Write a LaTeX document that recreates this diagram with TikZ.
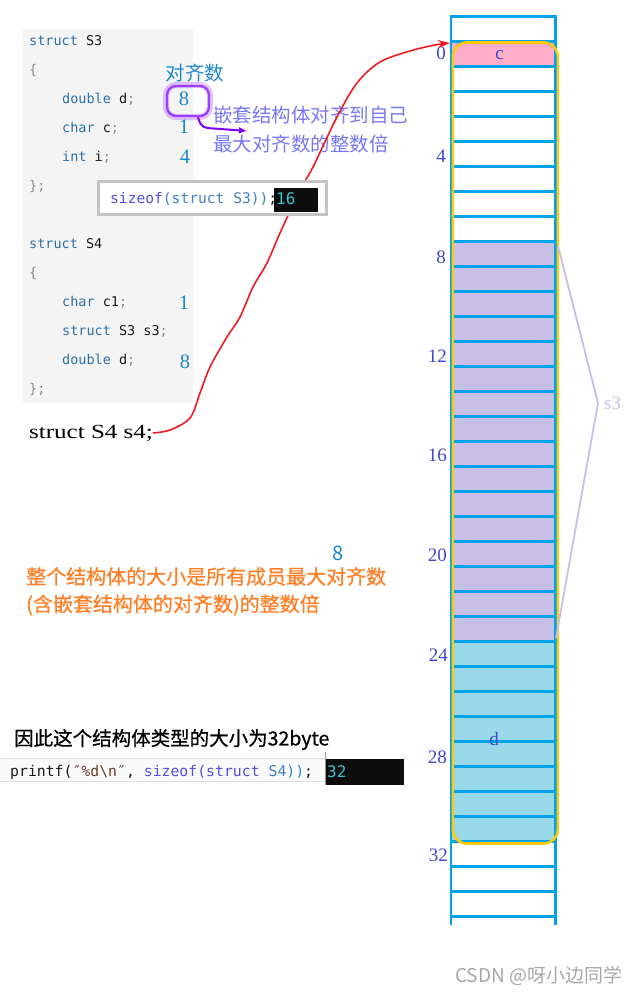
\documentclass[tikz,border=0pt]{standalone}
\usepackage{fontspec}
\setmainfont{Liberation Serif}
\newfontfamily\cjk{Noto Sans CJK SC}
\newfontfamily\cjkb{Noto Sans CJK SC}[FakeBold=0.7]
\newfontfamily\monof{DejaVu Sans Mono}
\usetikzlibrary{arrows.meta}
\newcommand\fsz[1]{\fontsize{#1}{#1}\selectfont}
\definecolor{gridblue}{HTML}{00A2E8}
\definecolor{cpink}{HTML}{FFAEC9}
\definecolor{clav}{HTML}{C8BFE7}
\definecolor{clblue}{HTML}{99D9EA}
\definecolor{cyell}{HTML}{FFC90E}
\definecolor{cindigo}{HTML}{3F48CC}
\definecolor{cred}{HTML}{ED1C24}
\definecolor{corange}{HTML}{FF7F27}
\definecolor{cnum}{HTML}{1E88C8}
\definecolor{cpurp}{HTML}{8000FF}
\definecolor{cglow}{HTML}{A040FF}
\definecolor{cptext}{HTML}{7878F4}
\definecolor{ckw}{HTML}{2F70A6}
\definecolor{codebg}{HTML}{F4F4F4}
\definecolor{cbrace}{HTML}{8A8A8A}
\definecolor{cident}{HTML}{1A1A1A}
\definecolor{cfunc}{HTML}{5050E0}
\definecolor{ctype}{HTML}{4080C0}
\definecolor{ccyan}{HTML}{3CC0D0}
\definecolor{cframe}{HTML}{C3C3C3}
\definecolor{cstr}{HTML}{6A3A2A}
\definecolor{cwm}{HTML}{A8A8A8}
\tikzset{
  code/.style={anchor=base west, inner sep=0, font=\monof\fsz{13.5}, text=cident},
  knum/.style={anchor=center, inner sep=0, text=cnum, font=\fsz{20.5}},
  memlbl/.style={anchor=east, inner sep=0, text=cindigo, font=\fsz{19}},
  gridline/.style={gridblue, line width=2.6},
  cjktext/.style={anchor=west, inner sep=0, font=\cjk\fsz{#1}},
  cjkbold/.style={anchor=west, inner sep=0, font=\cjkb\fsz{#1}},
  blackbox/.style={fill=black!95, draw=none, inner sep=0, anchor=north west},
}
\begin{document}
\begin{tikzpicture}[x=1pt,y=-1pt]
\useasboundingbox (0,0) rectangle (634,993);
\fill[white] (0,0) rectangle (634,993);

% ---------- code block ----------
\fill[codebg] (23,29) rectangle (193,403);
\node[code] (a1) at (29,45.5) {\textcolor{ckw}{struct} S3};
\node[code] (a2) at (29,74.5) {\textcolor{cbrace}{\{}};
\node[code] (a3) at (62,103.5) {\textcolor{ckw}{double} d\textcolor{cbrace}{;}};
\node[code] (a4) at (62,132.5) {\textcolor{ckw}{char} c\textcolor{cbrace}{;}};
\node[code] (a5) at (62,161.5) {\textcolor{ckw}{int} i\textcolor{cbrace}{;}};
\node[code] (a6) at (29,190.5) {\textcolor{cbrace}{\};}};
\node[code] (b1) at (29,248.5) {\textcolor{ckw}{struct} S4};
\node[code] (b2) at (29,277.5) {\textcolor{cbrace}{\{}};
\node[code] (b3) at (62,306.5) {\textcolor{ckw}{char} c1\textcolor{cbrace}{;}};
\node[code] (b4) at (62,335.5) {\textcolor{ckw}{struct} S3 s3\textcolor{cbrace}{;}};
\node[code] (b5) at (62,364.5) {\textcolor{ckw}{double} d\textcolor{cbrace}{;}};
\node[code] (b6) at (29,393.5) {\textcolor{cbrace}{\};}};

% alignment numbers
\node[anchor=center, inner sep=0, text=cnum, font=\cjk\fsz{19.5}] (hdr) at (195,73.5) {对齐数};
\draw[cglow, line width=6, opacity=0.3, rounded corners=10] (166,85) rectangle (210,117);
\node[draw=cglow, line width=2.4, rounded corners=9, minimum width=42, minimum height=30, inner sep=0] (g8) at (188,101) {};
\node[knum] (n8a) at (184,98.5) {8};
\node[knum] (n1a) at (184,127) {1};
\node[knum] (n4a) at (185,157) {4};
\node[knum] (n1b) at (184,303) {1};
\node[knum] (n8b) at (185,362) {8};

% purple note
\coordinate (pa1) at ([xshift=10pt]g8.south);
\coordinate (pa2) at (247,131);
\draw[cpurp, line width=2, -{Latex[length=8pt,width=7pt]}] (pa1) .. controls (201,128) and (204,128) .. (214,128.5) -- (pa2);
\node[cjktext=19.5, text=cptext] (note1) at (213,115) {嵌套结构体对齐到自己};
\node[cjktext=19.5, text=cptext] (note2) at (213,144) {最大对齐数的整数倍};

% struct S4 s4;
\node[anchor=base west, inner sep=0, font=\fsz{20}] (s4) at (29,438) {\scalebox{1.25}[1]{struct S4 s4;}};

% ---------- memory column ----------
\fill[cpink] (451,41.5) rectangle (555.5,66.5);
\fill[clav] (451,241.5) rectangle (555.5,641.5);
\fill[clblue] (451,641.5) rectangle (555.5,841.5);
\foreach \k in {0,...,36} {
  \draw[gridline] (451,16.5+25*\k) -- (555.5,16.5+25*\k);
}
\draw[gridline] (451,15.2) -- (451,925);
\draw[gridline] (555.5,15.2) -- (555.5,925);
\draw[cyell, line width=2.6, rounded corners=14] (452.8,42.5) rectangle (557.8,843.5);
\node[anchor=center, inner sep=0, text=cindigo, font=\fsz{19}] (cl) at (499.5,55) {c};
\node[anchor=center, inner sep=0, text=cindigo, font=\fsz{19}] (dl) at (494,739) {d};
\coordinate (row0) at (450,43);

\node[memlbl] (m0) at (446,53.5) {0};
\node[memlbl] (m4) at (446,156.5) {4};
\node[memlbl] (m8) at (446,257) {8};
\node[memlbl] (m12) at (447,356) {12};
\node[memlbl] (m16) at (447,455) {16};
\node[memlbl] (m20) at (447,555) {20};
\node[memlbl] (m24) at (448,655) {24};
\node[memlbl] (m28) at (447,757) {28};
\node[memlbl] (m32) at (448,855) {32};

% s3 bracket
\node[anchor=west, inner sep=0, text=clav, font=\fsz{19}] (s3) at (604,403) {s3};
\coordinate (apex) at ([xshift=-6pt]s3.west);
\coordinate (br1) at (558,246);
\coordinate (br2) at (556,638);
\draw[clav, line width=1.8] (br1) -- (apex) -- (br2);

% ---------- red connector ----------
\draw[cred, line width=1.6, line join=round, -{Stealth[length=12pt,width=8pt]}]
  plot[smooth, tension=0.55] coordinates {(s4.east) (170,430) (190,418) (200,393) (210,367) (227,337) (240,317) (253,287) (267,263) (280,233) (300,190) (313,167) (337,117) (357,83) (380,62) (410,51) (435,45) (row0)};

% ---------- sizeof tooltip ----------
\fill[white] (98.5,181.5) rectangle (326.5,214.5);
\draw[cframe, line width=3] (98.5,181.5) rectangle (326.5,214.5);
\node[anchor=base west, inner sep=0, font=\monof\fsz{14.6}] (tt) at (110,203) {\textcolor{cfunc}{sizeof}\textcolor{ctype}{(struct S3))}\textcolor{cident}{;}};
\node[blackbox, minimum width=44, minimum height=24] (bx16) at (274,188) {};
\node[anchor=base west, inner sep=0, text=ccyan, font=\monof\fsz{16}] (v16) at (276,204) {16};

% ---------- bottom texts ----------
\node[anchor=center, inner sep=0, text=cnum, font=\cjk\fsz{20}] (o8) at (338,553) {8};
\node[cjkbold=20, text=corange] (or1) at (26,576.5) {整个结构体的大小是所有成员最大对齐数};
\node[cjkbold=20, text=corange] (or2) at (26,605) {(含嵌套结构体的对齐数)的整数倍};
\node[cjkbold=19.5, text=black] (conc) at (14,739.5) {因此这个结构体类型的大小为32byte};

% printf screenshot
\fill[black!2] (0,758) rectangle (325,781);
\draw[black!15, line width=1] (0,758) -- (325,758);
\draw[black!12, line width=1] (0,781) -- (325,781);
\node[anchor=base west, inner sep=0, font=\monof\fsz{14.8}] (pf) at (10,776) {\textcolor{cident}{printf(}\textcolor{cstr}{″\%d\textbackslash n″}\textcolor{cident}{, }\textcolor{cfunc}{sizeof(struct} \textcolor{ctype}{S4))}\textcolor{cident}{;}};
\node[blackbox, minimum width=79, minimum height=26] (bx32) at (325,759) {};
\draw[black!40, line width=1] (325,752) -- (325,785);
\node[anchor=base west, inner sep=0, text=ccyan, font=\monof\fsz{16}] (v32) at (327,777) {32};

% watermark
\node[anchor=west, inner sep=0, text=cwm, font=\cjk\fsz{19}] (wm) at (455,976) {CSDN @呀小边同学};
\end{tikzpicture}
\end{document}
